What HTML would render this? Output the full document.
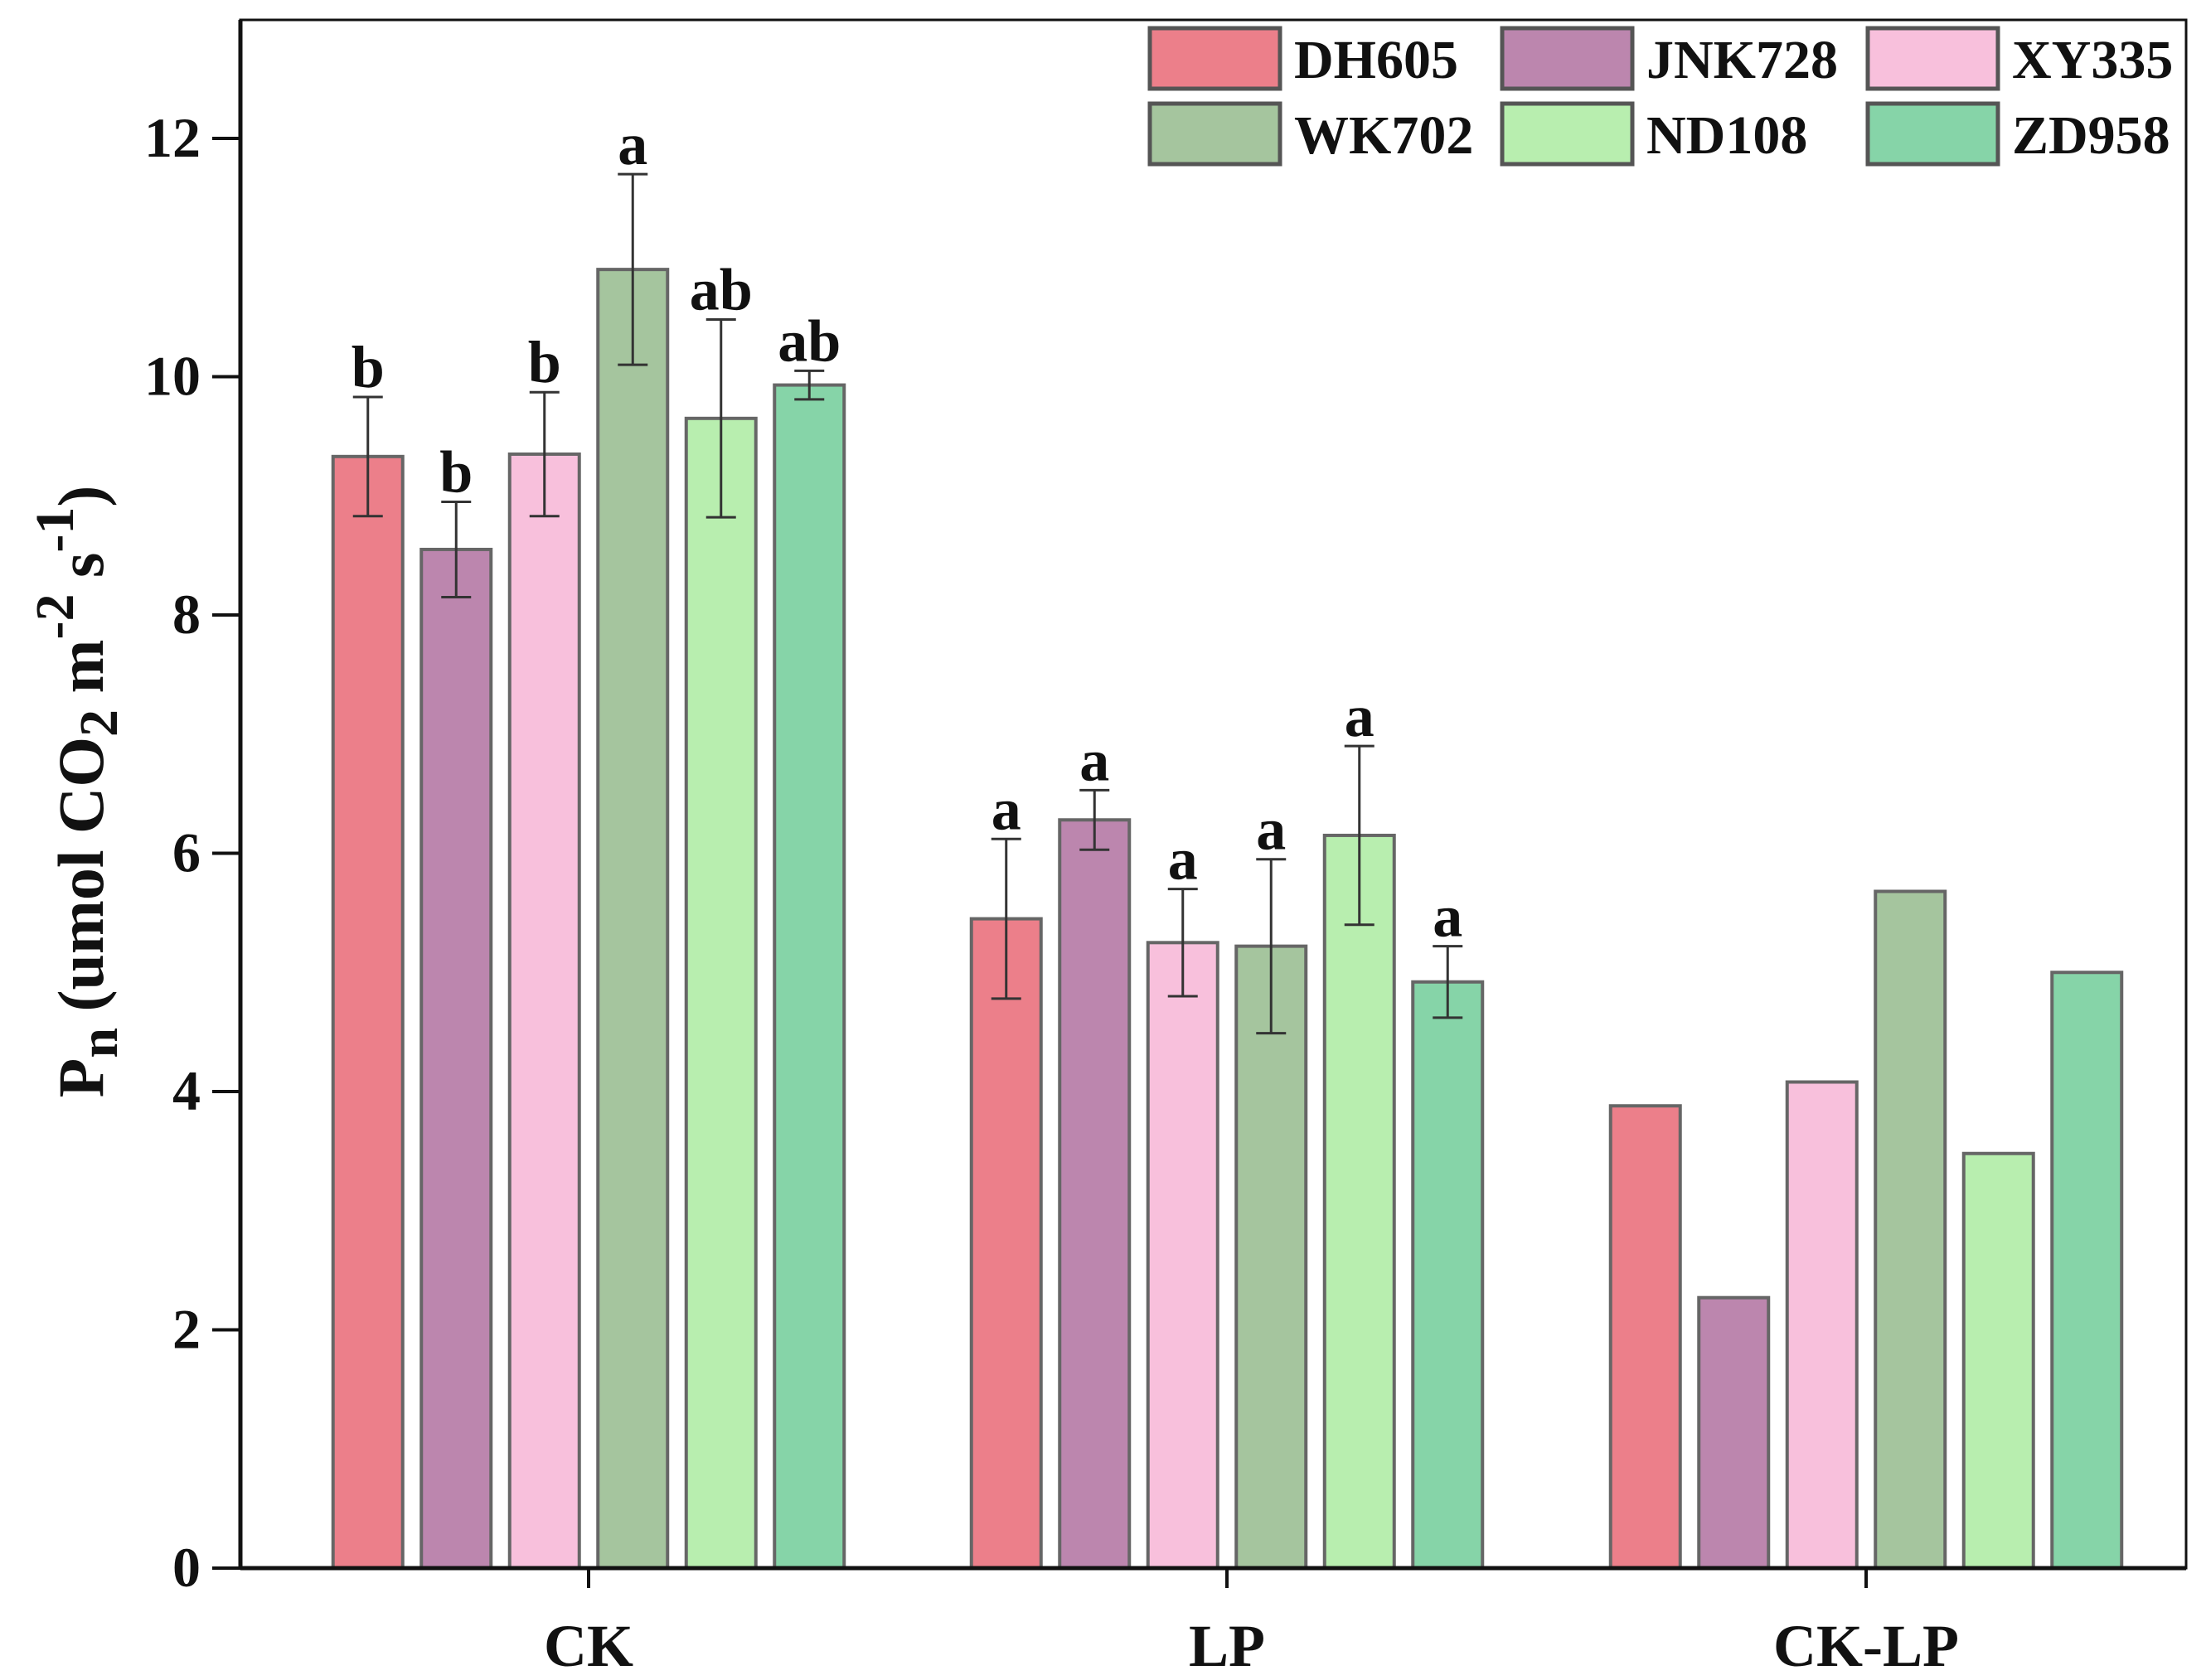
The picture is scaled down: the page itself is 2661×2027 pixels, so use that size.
<!DOCTYPE html>
<html><head><meta charset="utf-8"><style>body{margin:0;background:#fff}svg{display:block}text{font-family:"Liberation Serif",serif;font-weight:bold;fill:#111}</style></head>
<body>
<svg id="chart" width="2661" height="2027" viewBox="0 0 2661 2027" xmlns="http://www.w3.org/2000/svg">
<g id="plot"></g>
</svg>
<script>
const categories = ["CK", "LP", "CK-LP"];
const varieties = ["DH605", "JNK728", "XY335", "WK702", "ND108", "ZD958"];
const colors = ["#ec7f8a", "#bc86ae", "#f8c0dc", "#a5c59e", "#b8eeaf", "#86d4a8"];
const valuesCK = [9.33, 8.55, 9.35, 10.9, 9.65, 9.93];
const valuesLP = [5.45, 6.28, 5.25, 5.22, 6.15, 4.92];
const valuesDiff = [3.88, 2.27, 4.08, 5.68, 3.48, 5.0];
const errCK = [0.5, 0.4, 0.52, 0.8, 0.83, 0.12];
const errLP = [0.67, 0.25, 0.45, 0.73, 0.75, 0.3];
const lettersCK = ["b", "b", "b", "a", "ab", "ab"];
const lettersLP = ["a", "a", "a", "a", "a", "a"];
const yTicks = [0, 2, 4, 6, 8, 10, 12];

const NS = "http://www.w3.org/2000/svg";
const g = document.getElementById("plot");
const L = 290, R = 2637, T = 24, B = 1892, Y12 = 167;
const unit = (B - Y12) / 12;
const y = v => B - v * unit;
const groupCenters = [710, 1480, 2251];
const barW = 84, step = 106.5;
function el(tag, attrs, parent) { const e = document.createElementNS(NS, tag); for (const k in attrs) e.setAttribute(k, attrs[k]); (parent || g).appendChild(e); return e; }

const series = [valuesCK, valuesLP, valuesDiff];
const errs = [errCK, errLP, null];
const letters = [lettersCK, lettersLP, null];
series.forEach((vals, gi) => {
  vals.forEach((v, i) => {
    const x = groupCenters[gi] + (i - 2.5) * step - barW / 2;
    const r = el("rect", {x: x, y: y(v), width: barW, height: B - y(v), fill: colors[i], stroke: "#666", "stroke-width": 4});
    
    
    const cx = x + barW / 2;
    let top = y(v);
    if (errs[gi]) {
      const e = errs[gi][i];
      const eg = el("g", {stroke: "#333", "stroke-width": 3});
      
      
      el("line", {x1: cx, x2: cx, y1: y(v + e), y2: y(v - e)}, eg);
      el("line", {x1: cx - 18, x2: cx + 18, y1: y(v + e), y2: y(v + e)}, eg);
      el("line", {x1: cx - 18, x2: cx + 18, y1: y(v - e), y2: y(v - e)}, eg);
      top = y(v + e);
    }
    if (letters[gi]) {
      const t = el("text", {x: cx, y: top - 12, "text-anchor": "middle", "font-size": 72});
      t.textContent = letters[gi][i];
      
      
    }
  });
});

const frame = el("rect", {x: L, y: T, width: R - L, height: B - T, fill: "none", stroke: "#111", "stroke-width": 3});


const xAxis = el("line", {x1: L, x2: R, y1: B, y2: B, stroke: "#111", "stroke-width": 5});


const yAxis = el("line", {x1: L, x2: L, y1: T, y2: B, stroke: "#111", "stroke-width": 5});



yTicks.forEach(v => {
  const tk = el("line", {x1: L - 34, x2: L, y1: y(v), y2: y(v), stroke: "#111", "stroke-width": 4});
  
  
  const t = el("text", {x: 242, y: y(v) + 22, "text-anchor": "end", "font-size": 68});
  t.textContent = v;
  
  
});
categories.forEach((c, i) => {
  const tk = el("line", {x1: groupCenters[i], x2: groupCenters[i], y1: B, y2: B + 24, stroke: "#111", "stroke-width": 4});
  
  
  const t = el("text", {x: groupCenters[i], y: 2010, "text-anchor": "middle", "font-size": 72});
  t.textContent = c;
  
  
});

const yt = el("text", {transform: "translate(124,955) rotate(-90)", "text-anchor": "middle", "font-size": 78});


yt.innerHTML = 'P<tspan baseline-shift="-25%" font-size="66">n</tspan> (umol CO<tspan baseline-shift="-25%" font-size="66">2</tspan> m<tspan baseline-shift="super" font-size="66">-2</tspan> s<tspan baseline-shift="super" font-size="66">-1</tspan>)';

const colX = [1387, 1812, 2253], rowY = [34, 125];
varieties.forEach((v, i) => {
  const cx = colX[i % 3], cy = rowY[Math.floor(i / 3)];
  const lg = el("g", {});
  
  
  el("rect", {x: cx, y: cy, width: 157, height: 73, fill: colors[i], stroke: "#555", "stroke-width": 5}, lg);
  const t = el("text", {x: cx + 174, y: cy + 60, "font-size": 66}, lg);
  t.textContent = v;
});
</script>
</body></html>
